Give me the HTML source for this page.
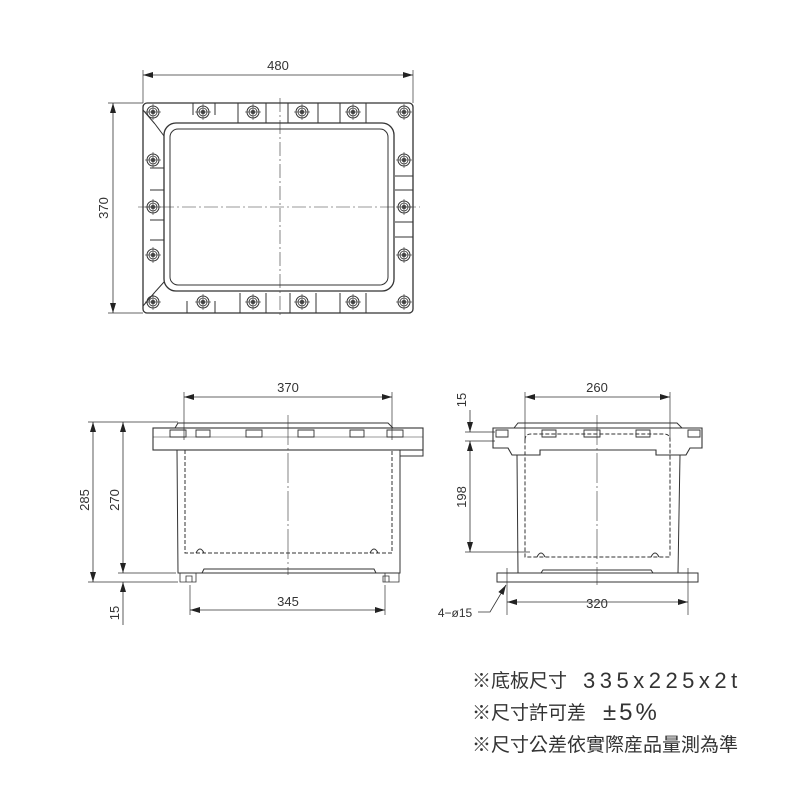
<!DOCTYPE html>
<html><head><meta charset="utf-8"><style>
html,body{margin:0;padding:0;background:#fff;}
svg{display:block}
text{font-family:"Liberation Sans","Noto Sans CJK TC",sans-serif;fill:#333}
</style></head><body>
<svg width="800" height="800" viewBox="0 0 800 800" xmlns="http://www.w3.org/2000/svg">
<defs>
<marker id="a" viewBox="0 0 10 6" refX="10" refY="3" markerWidth="10" markerHeight="6" orient="auto-start-reverse" markerUnits="userSpaceOnUse"><path d="M0,0 L10,3 L0,6 z" fill="#222"/></marker>
<g id="bolt"><circle r="6" fill="none" stroke="#333" stroke-width="1"/><circle r="4" fill="none" stroke="#333" stroke-width="0.8"/><circle r="2.3" fill="#555"/><line x1="-8" y1="0" x2="8" y2="0" stroke="#333" stroke-width="0.6"/><line x1="0" y1="-8" x2="0" y2="8" stroke="#333" stroke-width="0.6"/></g>
</defs>
<g stroke="#333" fill="none" stroke-width="1">
<line x1="143" y1="70" x2="143" y2="103" stroke-width="0.7"/>
<line x1="413" y1="70" x2="413" y2="103" stroke-width="0.7"/>
<line x1="143" y1="75" x2="413" y2="75" stroke-width="0.8" marker-start="url(#a)" marker-end="url(#a)"/>
<line x1="108" y1="103" x2="143" y2="103" stroke-width="0.7"/>
<line x1="108" y1="313" x2="143" y2="313" stroke-width="0.7"/>
<line x1="113" y1="103" x2="113" y2="313" stroke-width="0.8" marker-start="url(#a)" marker-end="url(#a)"/>
<rect x="143" y="103" width="270" height="210" rx="4" stroke-width="1.3"/>
<rect x="164" y="123" width="230" height="168" rx="12" stroke-width="1.3"/>
<rect x="170" y="129" width="218" height="156" rx="8"/>
<line x1="155" y1="124" x2="164" y2="136"/><line x1="155" y1="124" x2="143" y2="110"/>
<line x1="155" y1="292" x2="164" y2="282"/><line x1="143" y1="306" x2="155" y2="292"/>
<line x1="150" y1="168" x2="164" y2="168"/><line x1="150" y1="190" x2="164" y2="190"/>
<line x1="150" y1="220" x2="164" y2="220"/><line x1="150" y1="240" x2="164" y2="240"/>
<line x1="395" y1="176" x2="413" y2="176"/><line x1="395" y1="190" x2="413" y2="190"/>
<line x1="395" y1="222" x2="413" y2="222"/><line x1="395" y1="237" x2="413" y2="237"/>
<path d="M193,103 v12 M215,103 v12 M238,103 v20 M266,103 v20 M288,103 v20 M318,103 v20 M340,103 v20 M366,103 v20"/>
<path d="M187,313 v-12 M215,313 v-12 M240,313 v-20 M266,313 v-20 M290,313 v-20 M316,313 v-20 M340,313 v-20 M366,313 v-20"/>
<line x1="280" y1="98" x2="280" y2="318" stroke-width="0.6" stroke-dasharray="14,3,2,3"/>
<line x1="138" y1="207" x2="420" y2="207" stroke-width="0.6" stroke-dasharray="14,3,2,3"/>
</g>
<g>
<use href="#bolt" x="153" y="112"/><use href="#bolt" x="203" y="112"/><use href="#bolt" x="253" y="112"/><use href="#bolt" x="302" y="112"/><use href="#bolt" x="353" y="112"/><use href="#bolt" x="404" y="112"/>
<use href="#bolt" x="153" y="160"/><use href="#bolt" x="153" y="207"/><use href="#bolt" x="153" y="255"/>
<use href="#bolt" x="404" y="160"/><use href="#bolt" x="404" y="207"/><use href="#bolt" x="404" y="255"/>
<use href="#bolt" x="153" y="302"/><use href="#bolt" x="203" y="302"/><use href="#bolt" x="253" y="302"/><use href="#bolt" x="302" y="302"/><use href="#bolt" x="353" y="302"/><use href="#bolt" x="404" y="302"/>
</g>
<text x="278" y="70" font-size="13" text-anchor="middle">480</text>
<text x="108" y="208" font-size="13" text-anchor="middle" transform="rotate(-90 108 208)">370</text>

<g stroke="#333" fill="none" stroke-width="1">
<line x1="184" y1="392" x2="184" y2="440" stroke-width="0.7"/><line x1="392" y1="392" x2="392" y2="440" stroke-width="0.7"/>
<line x1="184" y1="397" x2="392" y2="397" stroke-width="0.8" marker-start="url(#a)" marker-end="url(#a)"/>
<path d="M175,428 L178,423 L388,423 L393,428" />
<rect x="153" y="428" width="270" height="22" stroke-width="1.1"/>
<path d="M400,450 L400,456 L423,456 L423,450"/>
<line x1="153" y1="437" x2="423" y2="437" stroke-width="0.6"/>
<path d="M170,430 h16 v7 h-16z M196,430 h14 v7 h-14z M246,430 h16 v7 h-16z M298,430 h16 v7 h-16z M350,430 h14 v7 h-14z M387,430 h16 v7 h-16z" stroke-width="0.9"/>
<path d="M177,450 L178,573 L400,573 L400,450" stroke-width="1"/>
<path d="M185,450 V553 H392 V450" stroke-dasharray="4,2"/>
<path d="M196,553 q4,-8 8,0 M370,553 q4,-8 8,0"/>
<path d="M202,573 L204,569 H374 L376,573"/>
<path d="M180,573 v9 h16 v-9 M385,573 v9 h14 v-9 M186,576 h6 v6 h-6z M383,576 h6 v6 h-6z" stroke-width="0.8"/>
<line x1="288" y1="415" x2="288" y2="575" stroke-width="0.6" stroke-dasharray="30,3,2,3"/>
<line x1="88" y1="422" x2="178" y2="422" stroke-width="0.7"/>
<line x1="88" y1="582" x2="178" y2="582" stroke-width="0.7"/>
<line x1="118" y1="573" x2="176" y2="573" stroke-width="0.7"/>
<line x1="93" y1="422" x2="93" y2="582" stroke-width="0.8" marker-start="url(#a)" marker-end="url(#a)"/>
<line x1="123" y1="422" x2="123" y2="573" stroke-width="0.8" marker-start="url(#a)" marker-end="url(#a)"/>
<line x1="123" y1="582" x2="123" y2="625" stroke-width="0.8" marker-start="url(#a)"/>
<line x1="190" y1="585" x2="190" y2="615" stroke-width="0.7"/><line x1="385" y1="585" x2="385" y2="615" stroke-width="0.7"/>
<line x1="190" y1="610" x2="385" y2="610" stroke-width="0.8" marker-start="url(#a)" marker-end="url(#a)"/>
</g>
<text x="288" y="392" font-size="13" text-anchor="middle">370</text>
<text x="288" y="606" font-size="13" text-anchor="middle">345</text>
<text x="89" y="500" font-size="13" text-anchor="middle" transform="rotate(-90 89 500)">285</text>
<text x="119" y="500" font-size="13" text-anchor="middle" transform="rotate(-90 119 500)">270</text>
<text x="119" y="613" font-size="13" text-anchor="middle" transform="rotate(-90 119 613)">15</text>

<g stroke="#333" fill="none" stroke-width="1">
<line x1="525" y1="392" x2="525" y2="440" stroke-width="0.7"/><line x1="670" y1="392" x2="670" y2="440" stroke-width="0.7"/>
<line x1="525" y1="397" x2="670" y2="397" stroke-width="0.8" marker-start="url(#a)" marker-end="url(#a)"/>
<path d="M514,428 L518,423 L677,423 L682,428"/>
<path d="M493,428 H702 V448 H690 L686,455 H656 V450 H540 V455 H512 L508,448 H493 Z" stroke-width="1.1"/>
<path d="M496,430 h12 v7 h-12z M542,430 h14 v7 h-14z M584,430 h16 v7 h-16z M636,430 h14 v7 h-14z M688,430 h12 v7 h-12z" stroke-width="0.9"/>
<path d="M517,455 L518,573 M680,455 L678,573"/>
<path d="M525,440 Q525,434 531,434 H664 Q670,434 670,440 V557 H525 Z" stroke-dasharray="4,2"/>
<path d="M537,557 q4,-8 8,0 M651,557 q4,-8 8,0"/>
<path d="M541,573 L543,570 H651 L653,573"/>
<rect x="497" y="573" width="201" height="9"/>
<line x1="507" y1="568" x2="507" y2="615" stroke-width="0.7"/><line x1="688" y1="568" x2="688" y2="615" stroke-width="0.7"/>
<line x1="507" y1="602" x2="688" y2="602" stroke-width="0.8" marker-start="url(#a)" marker-end="url(#a)"/>
<line x1="597" y1="415" x2="597" y2="585" stroke-width="0.6" stroke-dasharray="30,3,2,3"/>
<line x1="465" y1="432" x2="495" y2="432" stroke-width="0.7"/>
<line x1="465" y1="441" x2="495" y2="441" stroke-width="0.7"/>
<line x1="465" y1="552" x2="530" y2="552" stroke-width="0.7"/>
<line x1="470" y1="410" x2="470" y2="432" stroke-width="0.8" marker-end="url(#a)"/>
<line x1="470" y1="441" x2="470" y2="552" stroke-width="0.8" marker-start="url(#a)" marker-end="url(#a)"/>
<polyline points="478,612 490,612 506,585" stroke-width="0.8" marker-end="url(#a)"/>
</g>
<text x="597" y="392" font-size="13" text-anchor="middle">260</text>
<text x="597" y="608" font-size="13" text-anchor="middle">320</text>
<text x="466" y="400" font-size="13" text-anchor="middle" transform="rotate(-90 466 400)">15</text>
<text x="466" y="497" font-size="13" text-anchor="middle" transform="rotate(-90 466 497)">198</text>
<text x="455" y="617" font-size="12" text-anchor="middle">4−ø15</text>

<text x="472" y="687" font-size="19">※底板尺寸</text>
<text x="583" y="688" font-size="22" letter-spacing="4.5" fill="#444">335x225x2t</text>
<text x="472" y="719" font-size="19">※尺寸許可差</text>
<text x="603" y="720" font-size="24" letter-spacing="3" fill="#444">±5%</text>
<text x="472" y="751" font-size="19">※尺寸公差依實際産品量測為準</text>
</svg>
</body></html>
